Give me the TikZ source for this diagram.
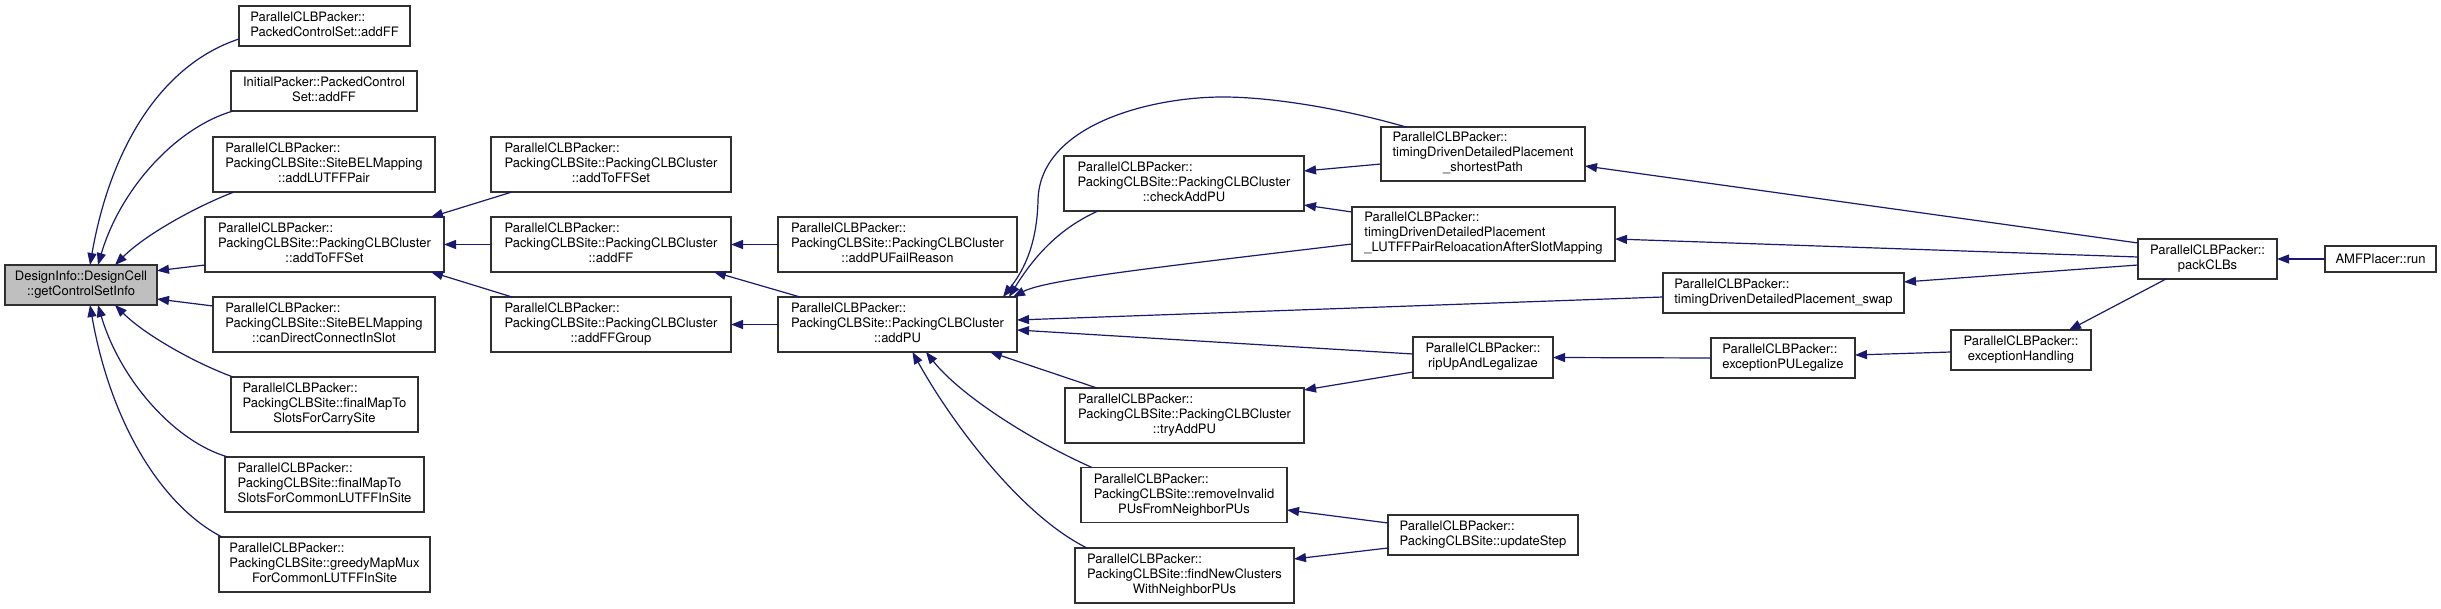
\documentclass[tikz,border=0pt]{standalone}
\usepackage{fontspec}
\setmainfont{TeX Gyre Heros}
\usetikzlibrary{arrows.meta,calc}
\definecolor{edgeblue}{HTML}{191970}
\definecolor{boxline}{HTML}{303030}
\definecolor{rootfill}{HTML}{BFBFBF}
\newcommand{\twol}[2]{\begin{tabular}{@{}l@{}}#1\\\multicolumn{1}{@{}c@{}}{#2}\end{tabular}}
\newcommand{\threel}[3]{\begin{tabular}{@{}l@{}}#1\\#2\\\multicolumn{1}{@{}c@{}}{#3}\end{tabular}}
\tikzset{
  fnbox/.style={draw=boxline, line width=1.3pt, fill=white, inner sep=0pt, outer sep=0pt,
    font=\fontsize{13}{15}\selectfont},
  rootbox/.style={fnbox, fill=rootfill},
  edge/.style={draw=edgeblue, line width=1.2pt, -{Triangle[length=12pt,width=9pt]}}
}
\begin{document}
\begin{tikzpicture}[x=1pt,y=-1pt]
\fill[white] (0,0) rectangle (2441,609);
\useasboundingbox (0,0) rectangle (2441,609);
% nodes
\node[rootbox, minimum width=152pt, minimum height=40pt] (root) at (81,285) {\twol{DesignInfo::DesignCell}{::getControlSetInfo}};
\node[fnbox, minimum width=171pt, minimum height=40pt] (c1a) at (324.5,26) {\twol{ParallelCLBPacker::}{PackedControlSet::addFF}};
\node[fnbox, minimum width=186pt, minimum height=40pt] (c1b) at (324,91) {\twol{InitialPacker::PackedControl}{Set::addFF}};
\node[fnbox, minimum width=222pt, minimum height=55pt] (c1c) at (324,164.5) {\threel{ParallelCLBPacker::}{PackingCLBSite::SiteBELMapping}{::addLUTFFPair}};
\node[fnbox, minimum width=239pt, minimum height=55pt] (c1d) at (324.5,244.5) {\threel{ParallelCLBPacker::}{PackingCLBSite::PackingCLBCluster}{::addToFFSet}};
\node[fnbox, minimum width=222pt, minimum height=55pt] (c1e) at (324,324.5) {\threel{ParallelCLBPacker::}{PackingCLBSite::SiteBELMapping}{::canDirectConnectInSlot}};
\node[fnbox, minimum width=187pt, minimum height=55pt] (c1f) at (324.5,404.5) {\threel{ParallelCLBPacker::}{PackingCLBSite::finalMapTo}{SlotsForCarrySite}};
\node[fnbox, minimum width=199pt, minimum height=55pt] (c1g) at (324.5,484.5) {\threel{ParallelCLBPacker::}{PackingCLBSite::finalMapTo}{SlotsForCommonLUTFFInSite}};
\node[fnbox, minimum width=211pt, minimum height=55pt] (c1h) at (324.5,564.5) {\threel{ParallelCLBPacker::}{PackingCLBSite::greedyMapMux}{ForCommonLUTFFInSite}};
\node[fnbox, minimum width=240pt, minimum height=55pt] (c2a) at (611,164.5) {\threel{ParallelCLBPacker::}{PackingCLBSite::PackingCLBCluster}{::addToFFSet}};
\node[fnbox, minimum width=240pt, minimum height=55pt] (c2b) at (611,244.5) {\threel{ParallelCLBPacker::}{PackingCLBSite::PackingCLBCluster}{::addFF}};
\node[fnbox, minimum width=240pt, minimum height=55pt] (c2c) at (611,324.5) {\threel{ParallelCLBPacker::}{PackingCLBSite::PackingCLBCluster}{::addFFGroup}};
\node[fnbox, minimum width=239pt, minimum height=55pt] (c3a) at (897.5,244.5) {\threel{ParallelCLBPacker::}{PackingCLBSite::PackingCLBCluster}{::addPUFailReason}};
\node[fnbox, minimum width=239pt, minimum height=55pt] (c3b) at (897.5,324.5) {\threel{ParallelCLBPacker::}{PackingCLBSite::PackingCLBCluster}{::addPU}};
\node[fnbox, minimum width=240pt, minimum height=55pt] (chk) at (1184,183.5) {\threel{ParallelCLBPacker::}{PackingCLBSite::PackingCLBCluster}{::checkAddPU}};
\node[fnbox, minimum width=239pt, minimum height=55pt] (try) at (1184.5,415.5) {\threel{ParallelCLBPacker::}{PackingCLBSite::PackingCLBCluster}{::tryAddPU}};
\node[fnbox, minimum width=206pt, minimum height=55pt] (rem) at (1184,495) {\threel{ParallelCLBPacker::}{PackingCLBSite::removeInvalid}{PUsFromNeighborPUs}};
\node[fnbox, minimum width=219pt, minimum height=55pt] (fnc) at (1184.5,575.5) {\threel{ParallelCLBPacker::}{PackingCLBSite::findNewClusters}{WithNeighborPUs}};
\node[fnbox, minimum width=204pt, minimum height=54pt] (sp) at (1483,154) {\threel{ParallelCLBPacker::}{timingDrivenDetailedPlacement}{\_shortestPath}};
\node[fnbox, minimum width=263pt, minimum height=54pt] (lut) at (1483.5,234) {\threel{ParallelCLBPacker::}{timingDrivenDetailedPlacement}{\_LUTFFPairReloacationAfterSlotMapping}};
\node[fnbox, minimum width=140pt, minimum height=41pt] (rip) at (1483,357.5) {\twol{ParallelCLBPacker::}{ripUpAndLegalizae}};
\node[fnbox, minimum width=190pt, minimum height=40pt] (upd) at (1483,535) {\twol{ParallelCLBPacker::}{PackingCLBSite::updateStep}};
\node[fnbox, minimum width=241pt, minimum height=40pt] (swp) at (1783.5,293) {\twol{ParallelCLBPacker::}{timingDrivenDetailedPlacement\_swap}};
\node[fnbox, minimum width=144pt, minimum height=40pt] (epl) at (1783,358) {\twol{ParallelCLBPacker::}{exceptionPULegalize}};
\node[fnbox, minimum width=140pt, minimum height=40pt] (eh) at (2021,350) {\twol{ParallelCLBPacker::}{exceptionHandling}};
\node[fnbox, minimum width=139pt, minimum height=40pt] (pck) at (2207.5,259) {\twol{ParallelCLBPacker::}{packCLBs}};
\node[fnbox, minimum width=111pt, minimum height=26pt] (run) at (2380.5,259) {AMFPlacer::run};
% edges into root
\draw[edge] ($(c1a.west)+(0,13)$) .. controls (160,65) and (110,150) .. ($(root.north)+(9,0)$);
\draw[edge] ($(c1b.south west)+(2,0)$) .. controls (175,128) and (120,190) .. ($(root.north)+(17,0)$);
\draw[edge] ($(c1c.south west)+(21,0)$) .. controls (195,207) and (145,235) .. ($(root.north)+(34,0)$);
\draw[edge] ($(c1d.west)+(0,20.5)$) -- ($(root.east)+(0,-14.3)$);
\draw[edge] ($(c1e.west)+(0,-18.5)$) -- ($(root.east)+(0,14)$);
\draw[edge] ($(c1f.north west)+(2,0)$) .. controls (195,363) and (145,335) .. ($(root.south)+(34,0)$);
\draw[edge] ($(c1g.north west)+(3,0)$) .. controls (175,442) and (120,380) .. ($(root.south)+(17,0)$);
\draw[edge] ($(c1h.north west)+(3,0)$) .. controls (160,505) and (110,420) .. ($(root.south)+(9,0)$);
% column 2 -> column 1
\draw[edge] ($(c2a.south west)+(21,0)$) -- ($(c1d.north east)+(-13,0)$);
\draw[edge] (c2b.west) -- (c1d.east);
\draw[edge] ($(c2c.north west)+(21,0)$) -- ($(c1d.south east)+(-13,0)$);
% column 3 -> column 2
\draw[edge] (c3a.west) -- (c2b.east);
\draw[edge] ($(c3b.north west)+(22,0)$) -- ($(c2b.south east)+(-17,0)$);
\draw[edge] (c3b.west) -- (c2c.east);
% into addPU
\draw[edge] ($(chk.south west)+(34,0)$) .. controls (1060,228) and (1035,255) .. ($(c3b.north east)+(-8,0)$);
\draw[edge] ($(sp.north)+(-77,0)$) .. controls (1340,108) and (1270,97) .. (1223,97)
  .. controls (1150,97) and (1040,125) .. (1038,200)
  .. controls (1037,250) and (1020,275) .. ($(c3b.north east)+(-14,0)$);
\draw[edge] ($(lut.west)+(0,10)$) .. controls (1150,268) and (1045,280) .. ($(c3b.north east)+(-4,0)$);
\draw[edge] ($(swp.west)+(0,4)$) -- ($(c3b.east)+(0,-4.5)$);
\draw[edge] ($(rip.west)+(0,-3.5)$) -- ($(c3b.east)+(0,5.5)$);
\draw[edge] ($(try.north west)+(32,0)$) -- ($(c3b.south east)+(-27,0)$);
\draw[edge] ($(rem.north west)+(11,0)$) .. controls (1030,440) and (960,395) .. ($(c3b.south)+(28.5,0)$);
\draw[edge] ($(fnc.north west)+(12,0)$) .. controls (1020,515) and (950,420) .. ($(c3b.south)+(15,0)$);
% into checkAddPU
\draw[edge] ($(sp.west)+(0,10)$) -- ($(chk.east)+(0,-12.5)$);
\draw[edge] ($(lut.north west)+(0,5)$) -- ($(chk.east)+(0,21.5)$);
% from packCLBs
\draw[edge] ($(pck.west)+(0,-16)$) -- ($(sp.east)+(0,12)$);
\draw[edge] ($(pck.west)+(0,-2)$) -- ($(lut.east)+(0,5)$);
\draw[edge] ($(pck.west)+(0,6)$) -- ($(swp.east)+(0,-11)$);
\draw[edge] ($(pck.south west)+(28,0)$) -- ($(eh.north)+(48,0)$);
\draw[edge] (run.west) -- (pck.east);
% exception chain
\draw[edge] ($(eh.west)+(0,2)$) -- ($(epl.east)+(0,-3)$);
\draw[edge] (epl.west) -- (rip.east);
\draw[edge] ($(rip.south west)+(0,-6)$) -- ($(try.east)+(0,-25.5)$);
% updateStep
\draw[edge] ($(upd.west)+(0,-12)$) -- ($(rem.east)+(0,15)$);
\draw[edge] ($(upd.west)+(0,13)$) -- ($(fnc.east)+(0,-16.5)$);
\end{tikzpicture}
\end{document}
